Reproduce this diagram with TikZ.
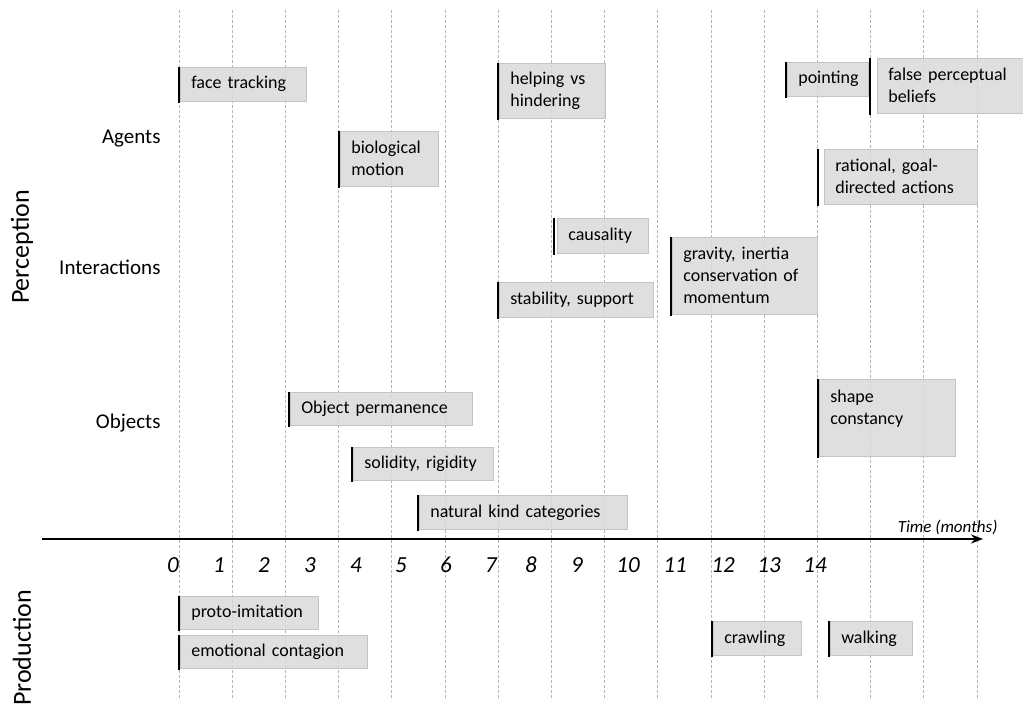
\documentclass[tikz,border=0pt]{standalone}
\usepackage{fontspec}
\setmainfont{Carlito}
\usetikzlibrary{arrows.meta}
\definecolor{boxgray}{HTML}{D9D9D9}
\definecolor{boxedge}{HTML}{C4C4C4}
\definecolor{gridgray}{HTML}{B4B4B4}

\begin{document}
\begin{tikzpicture}[x=1pt, y=-1pt,
    evt/.style={anchor=north west, fill=boxgray, draw=boxedge, line width=0.6pt,
      fill opacity=0.85, text opacity=1, inner xsep=11pt, inner ysep=0pt,
      align=left, font=\fontsize{18}{22}\selectfont},
    evtbar/.style={line width=2.4pt, black},
    gridline/.style={draw=gridgray, dash pattern=on 3pt off 2pt, line width=0.8pt},
    rowlabel/.style={anchor=east, font=\fontsize{21}{25}\selectfont},
    monthnum/.style={font=\fontsize{23}{27}\selectfont\itshape},
    sidelabel/.style={rotate=90, font=\fontsize{26}{30}\selectfont}]
\useasboundingbox (0,0) rectangle (1023,708);

% month grid
\foreach \i in {0,...,15}
  \draw[gridline] (179+53.2*\i,10) -- (179+53.2*\i,700);

% time axis
\coordinate (tstart) at (42,539);
\coordinate (tend) at (983,539);
\draw[line width=2.2pt, -{Stealth[length=12pt,width=9pt]}] (tstart) -- (tend);
\node[anchor=east, font=\fontsize{17}{20}\selectfont\itshape] (tlabel) at (1001,527) {Time (months)};

\foreach \n/\x in {0/173,1/219,2/264,3/310,4/356,5/401,6/446,7/491,
                   8/531,9/577,10/628,11/675,12/723,13/769,14/815}
  \node[monthnum] (m\n) at (\x,565) {\n};

% row labels
\node[rowlabel] (agents) at (164,139) {Agents};
\node[rowlabel] (inter) at (164,267) {Interactions};
\node[rowlabel] (objects) at (164,423) {Objects};
\node[sidelabel] (perc) at (22,247) {Perception};
\node[sidelabel] (prod) at (22,648) {Production};

% events: name / bar x / box left / top / right / bottom / text
\foreach \nm/\bx/\xa/\ya/\xb/\yb/\txt in {
    ftrack/179/180/67/306/101/{face tracking},
    biomot/339/340/131/438/186/{biological\\motion},
    helping/498/499/63/605/118/{helping vs\\hindering},
    pointing/786/787/62/868/96/{pointing},
    falsebel/870/877/58/1030/113/{false perceptual\\beliefs},
    rational/818/824/149/977/204/{rational, goal-\\directed actions},
    causal/554/557/218/648/253/{causality},
    stability/498/499/282/653/317/{stability, support},
    gravity/671/672/237/817/314/{gravity, inertia\\conservation of\\momentum},
    objperm/289/290/392/472/425/{Object permanence},
    solidity/352/353/447/493/480/{solidity, rigidity},
    natkind/418/419/495/627/529/{natural kind categories},
    shape/818/819/379/955/456/{shape\\constancy\\~},
    proto/179/180/596/318/629/{proto-imitation},
    emotion/179/180/635/367/668/{emotional contagion},
    crawl/712/713/621/801/655/{crawling},
    walk/829/830/621/912/655/{walking}} {
  \pgfmathsetmacro\tw{\xb-\xa-22}
  \pgfmathsetmacro\bh{\yb-\ya}
  \node[evt, text width=\tw pt, minimum height=\bh pt] (\nm) at (\xa,\ya) {\txt};
  \draw[evtbar] (\bx,\ya) -- (\bx,\yb+2);
}
\end{tikzpicture}
\end{document}
